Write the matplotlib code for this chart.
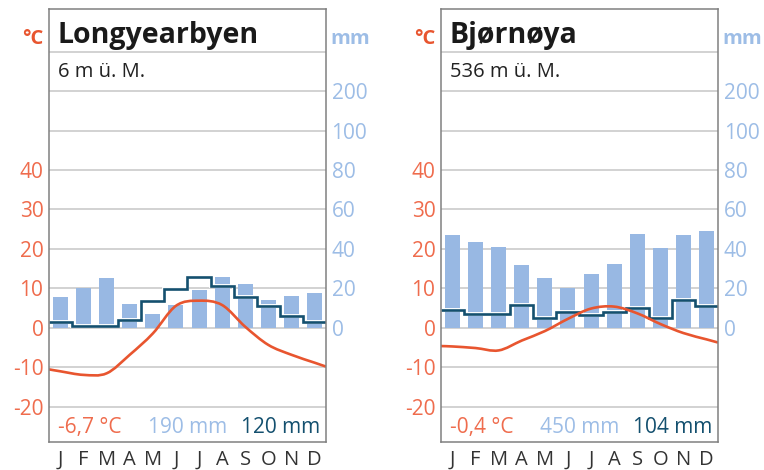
import numpy as np
import matplotlib
matplotlib.use("Agg")
import matplotlib.pyplot as plt
from matplotlib.path import Path
from matplotlib.patches import PathPatch
import matplotlib.patheffects as pe

plt.rcParams['font.family'] = ['Open Sans', 'DejaVu Sans']

months = ["J", "F", "M", "A", "M", "J", "J", "A", "S", "O", "N", "D"]

# Longyearbyen
ly_name = "Longyearbyen"
ly_elev = "6 m ü. M."
ly_precip = [15.8, 20.4, 25.5, 12.1, 7.1, 11.6, 19.2, 25.8, 22.3, 14.2, 16.4, 17.9]
ly_step = [3.2, 1.2, 1.2, 4.0, 13.7, 19.6, 25.8, 21.3, 15.5, 11.1, 6.1, 3.2]
ly_temp = [-11.0, -11.9, -11.5, -6.8, -1.4, 5.6, 6.9, 5.8, 0.3, -4.3, -6.8, -8.8]
ly_temp_edges = [-10.5, -9.8]
ly_totals = ["-6,7 °C", "190 mm", "120 mm"]

# Bjørnøya
bj_name = "Bjørnøya"
bj_elev = "536 m ü. M."
bj_precip = [47.0, 43.5, 41.0, 31.9, 25.5, 20.1, 27.3, 32.4, 47.6, 40.5, 47.0, 49.1]
bj_step = [9.0, 7.1, 7.1, 11.6, 5.2, 8.1, 6.6, 8.1, 10.1, 4.9, 14.2, 11.3]
bj_temp = [-4.7, -5.1, -5.7, -3.2, -0.8, 2.3, 4.9, 5.4, 3.7, 1.0, -1.3, -2.9]
bj_temp_edges = [-4.6, -3.7]
bj_totals = ["-0,4 °C", "450 mm", "104 mm"]

c_temp = "#e8552f"
c_temp_txt = "#ef6c4d"
c_bar = "#98b8e3"
c_bar_txt = "#9dbde6"
c_step = "#14506f"
c_grid = "#c6c6c6"
c_box = "#808080"


def smooth_path(xs, ys):
    p = np.column_stack([xs, ys])
    n = len(p)
    verts = [p[0]]
    codes = [Path.MOVETO]
    for i in range(n - 1):
        t0 = (p[min(i + 1, n - 1)] - p[max(i - 1, 0)]) / 2
        t1 = (p[min(i + 2, n - 1)] - p[i]) / 2
        if i == 0:
            t0 = p[1] - p[0]
        if i == n - 2:
            t1 = p[n - 1] - p[n - 2]
        verts += [p[i] + t0 / 3, p[i + 1] - t1 / 3, p[i + 1]]
        codes += [Path.CURVE4] * 3
    return Path(verts, codes)


def panel(left, name, elev, precip, step, temp, edges, totals):
    ax = fig.add_axes([left, 0.0596, 0.3626, 0.9213])
    ax.set_xlim(0, 12)
    ax.set_ylim(-28.9, 80.8)
    x = np.arange(12) + 0.5
    for g in [-20, -10, 0, 10, 20, 30, 40, 50, 60, 70]:
        ax.axhline(g, color=c_grid, lw=1.1, zorder=1)
    ax.bar(x, np.array(precip) / 2, width=0.65, color=c_bar, zorder=2)
    ax.stairs(np.array(step) / 2, np.arange(13), baseline=None, color=c_step,
              lw=1.9, zorder=4,
              path_effects=[pe.Stroke(linewidth=2.8, foreground="white"), pe.Normal()])
    xs = np.concatenate([[0], x, [12]])
    ys = np.concatenate([[edges[0]], temp, [edges[1]]])
    ax.add_patch(PathPatch(smooth_path(xs, ys), fill=False, edgecolor=c_temp,
                           lw=1.9, zorder=5, capstyle="butt"))

    ax.set_xticks(x)
    ax.set_xticklabels(months, fontsize=14.5, color="#333333")
    ax.tick_params(axis="x", length=0, pad=5.5)
    ax.set_yticks([-20, -10, 0, 10, 20, 30, 40])
    ax.set_yticklabels(["-20", "-10", "0", "10", "20", "30", "40"],
                       fontsize=15, color=c_temp_txt)
    ax.tick_params(axis="y", length=0, pad=4)
    for s in ax.spines.values():
        s.set_color(c_box)
        s.set_linewidth(1.1)
        s.set_zorder(6)

    ax2 = ax.twinx()
    ax2.set_ylim(ax.get_ylim())
    ax2.set_yticks([0, 10, 20, 30, 40, 50, 60])
    ax2.set_yticklabels(["0", "20", "40", "60", "80", "100", "200"],
                        fontsize=15, color=c_bar_txt)
    ax2.tick_params(axis="y", length=0, pad=4)
    for s in ax2.spines.values():
        s.set_visible(False)

    ax.text(0.38, 72.2, name, fontsize=20.5, fontweight="bold", color="#1a1a1a",
            va="baseline", ha="left", zorder=7)
    ax.text(0.38, 63.5, elev, fontsize=14.5, color="#222222", va="baseline", ha="left")
    ax.text(-0.23, 72.0, "°C", fontsize=14.5, fontweight="bold", color=c_temp,
            va="baseline", ha="right", clip_on=False)
    ax.text(12.2, 72.0, "mm", fontsize=14.5, fontweight="bold", color=c_bar_txt,
            va="baseline", ha="left", clip_on=False)
    ax.text(0.4, -26.6, totals[0], fontsize=15, color=c_temp_txt, va="baseline", ha="left")
    ax.text(6.0, -26.6, totals[1], fontsize=15, color=c_bar_txt, va="baseline", ha="center")
    ax.text(11.75, -26.6, totals[2], fontsize=15, color=c_step, va="baseline", ha="right")


fig = plt.figure(figsize=(7.64, 4.70), dpi=100)
panel(0.0641, ly_name, ly_elev, ly_precip, ly_step, ly_temp, ly_temp_edges, ly_totals)
panel(0.5772, bj_name, bj_elev, bj_precip, bj_step, bj_temp, bj_temp_edges, bj_totals)
fig.savefig("out.png", dpi=100)
